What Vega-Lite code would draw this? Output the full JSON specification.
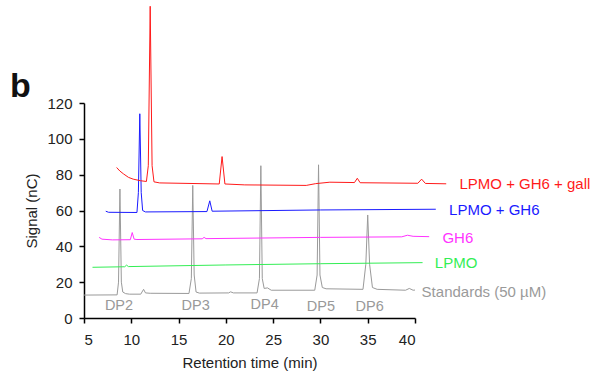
{
  "$schema": "https://vega.github.io/schema/vega-lite/v6.json",
  "width": 331,
  "height": 215,
  "autosize": {"type": "none"},
  "padding": {"left": 84, "top": 103, "right": 175, "bottom": 61},
  "background": "white",
  "config": {
    "view": {"stroke": null},
    "font": "Liberation Sans",
    "axis": {"grid": false, "domainColor": "#000", "domainWidth": 1.5, "tickColor": "#000", "tickWidth": 1.5, "tickSize": 5,
      "labelFontSize": 15, "labelColor": "#222", "titleFontSize": 15, "titleFontWeight": "normal", "titleColor": "#222"},
    "axisX": {"labelPadding": 9, "titlePadding": 8},
    "axisY": {"labelPadding": 7, "titlePadding": 7}
  },
  "title": {"text": "b", "anchor": "start", "frame": "group", "dx": -74, "dy": 100, "fontSize": 34, "fontWeight": "bold", "color": "#111", "offset": 0},
  "datasets": {
    "traces": [
      {"series": "std", "t": 5.0, "s": 12.8},
      {"series": "std", "t": 8.5, "s": 12.9},
      {"series": "std", "t": 8.65, "s": 20},
      {"series": "std", "t": 8.8, "s": 72},
      {"series": "std", "t": 8.95, "s": 20},
      {"series": "std", "t": 9.1, "s": 14.5},
      {"series": "std", "t": 9.4, "s": 13.6},
      {"series": "std", "t": 9.8, "s": 13.3},
      {"series": "std", "t": 11.0, "s": 13.3},
      {"series": "std", "t": 11.3, "s": 16.0},
      {"series": "std", "t": 11.5, "s": 14.0},
      {"series": "std", "t": 12.0, "s": 13.8},
      {"series": "std", "t": 16.1, "s": 13.7},
      {"series": "std", "t": 16.35, "s": 22},
      {"series": "std", "t": 16.5, "s": 74},
      {"series": "std", "t": 16.65, "s": 24},
      {"series": "std", "t": 16.85, "s": 14.5},
      {"series": "std", "t": 17.2, "s": 13.9},
      {"series": "std", "t": 20.3, "s": 14.0},
      {"series": "std", "t": 20.5, "s": 14.6},
      {"series": "std", "t": 20.8, "s": 14.0},
      {"series": "std", "t": 23.3, "s": 14.0},
      {"series": "std", "t": 23.55, "s": 22},
      {"series": "std", "t": 23.7, "s": 85},
      {"series": "std", "t": 23.85, "s": 22},
      {"series": "std", "t": 24.05, "s": 16.5},
      {"series": "std", "t": 24.4, "s": 16.8},
      {"series": "std", "t": 24.8, "s": 15.5},
      {"series": "std", "t": 29.4, "s": 15.5},
      {"series": "std", "t": 29.65, "s": 24},
      {"series": "std", "t": 29.8, "s": 85.5},
      {"series": "std", "t": 29.95, "s": 24},
      {"series": "std", "t": 30.2, "s": 17},
      {"series": "std", "t": 30.6, "s": 16.3},
      {"series": "std", "t": 34.5, "s": 16},
      {"series": "std", "t": 34.8, "s": 30},
      {"series": "std", "t": 35.0, "s": 57.5},
      {"series": "std", "t": 35.2, "s": 30},
      {"series": "std", "t": 35.5, "s": 17},
      {"series": "std", "t": 36.0, "s": 16},
      {"series": "std", "t": 39.0, "s": 15.5},
      {"series": "std", "t": 39.4, "s": 16.5},
      {"series": "std", "t": 39.8, "s": 15.5},
      {"series": "std", "t": 40.0, "s": 15.6},

      {"series": "lpmo", "t": 5.9, "s": 28.3},
      {"series": "lpmo", "t": 9.3, "s": 28.6},
      {"series": "lpmo", "t": 9.5, "s": 29.5},
      {"series": "lpmo", "t": 9.7, "s": 28.7},
      {"series": "lpmo", "t": 20.0, "s": 29.6},
      {"series": "lpmo", "t": 30.0, "s": 30.3},
      {"series": "lpmo", "t": 40.8, "s": 30.9},

      {"series": "gh6", "t": 6.6, "s": 45.0},
      {"series": "gh6", "t": 6.9, "s": 44.0},
      {"series": "gh6", "t": 8.0, "s": 43.6},
      {"series": "gh6", "t": 9.9, "s": 43.7},
      {"series": "gh6", "t": 10.1, "s": 47.7},
      {"series": "gh6", "t": 10.3, "s": 44.0},
      {"series": "gh6", "t": 10.6, "s": 43.8},
      {"series": "gh6", "t": 17.5, "s": 44.2},
      {"series": "gh6", "t": 17.7, "s": 45.0},
      {"series": "gh6", "t": 17.9, "s": 44.3},
      {"series": "gh6", "t": 30.0, "s": 45.0},
      {"series": "gh6", "t": 38.6, "s": 45.3},
      {"series": "gh6", "t": 39.2, "s": 46.2},
      {"series": "gh6", "t": 39.8, "s": 45.6},
      {"series": "gh6", "t": 41.5, "s": 45.4},

      {"series": "lg", "t": 7.3, "s": 59.6},
      {"series": "lg", "t": 7.6, "s": 59.0},
      {"series": "lg", "t": 10.6, "s": 58.9},
      {"series": "lg", "t": 10.75, "s": 70},
      {"series": "lg", "t": 10.9, "s": 114},
      {"series": "lg", "t": 11.05, "s": 70},
      {"series": "lg", "t": 11.2, "s": 60},
      {"series": "lg", "t": 11.5, "s": 59.2},
      {"series": "lg", "t": 18.0, "s": 59.4},
      {"series": "lg", "t": 18.3, "s": 65.4},
      {"series": "lg", "t": 18.55, "s": 59.6},
      {"series": "lg", "t": 30.0, "s": 60.3},
      {"series": "lg", "t": 42.2, "s": 60.7},

      {"series": "lgg", "t": 8.45, "s": 84},
      {"series": "lgg", "t": 8.8, "s": 82},
      {"series": "lgg", "t": 9.16, "s": 80.5},
      {"series": "lgg", "t": 9.7, "s": 78.5},
      {"series": "lgg", "t": 10.2, "s": 77.5},
      {"series": "lgg", "t": 11.0, "s": 76.6},
      {"series": "lgg", "t": 11.6, "s": 76.2},
      {"series": "lgg", "t": 11.8, "s": 85},
      {"series": "lgg", "t": 12.0, "s": 174},
      {"series": "lgg", "t": 12.2, "s": 85},
      {"series": "lgg", "t": 12.4, "s": 76},
      {"series": "lgg", "t": 13.0, "s": 75.4},
      {"series": "lgg", "t": 19.3, "s": 74.8},
      {"series": "lgg", "t": 19.6, "s": 90.1},
      {"series": "lgg", "t": 19.9, "s": 74.8},
      {"series": "lgg", "t": 22.0, "s": 74.3},
      {"series": "lgg", "t": 28.5, "s": 74.0},
      {"series": "lgg", "t": 29.5, "s": 75.0},
      {"series": "lgg", "t": 31.0, "s": 75.8},
      {"series": "lgg", "t": 33.6, "s": 75.6},
      {"series": "lgg", "t": 33.9, "s": 78},
      {"series": "lgg", "t": 34.2, "s": 75.5},
      {"series": "lgg", "t": 40.3, "s": 75.2},
      {"series": "lgg", "t": 40.7, "s": 77.5},
      {"series": "lgg", "t": 41.1, "s": 75.1},
      {"series": "lgg", "t": 43.3, "s": 74.9}
    ],
    "labels": [
      {"series": "lgg", "label": "LPMO + GH6 + gall", "t": 44.7, "s": 74.9},
      {"series": "lg", "label": "LPMO + GH6", "t": 43.6, "s": 60.3},
      {"series": "gh6", "label": "GH6", "t": 42.9, "s": 44.5},
      {"series": "lpmo", "label": "LPMO", "t": 42.1, "s": 30.6},
      {"series": "std", "label": "Standards (50 µM)", "t": 40.7, "s": 14.7}
    ],
    "dp": [
      {"label": "DP2", "t": 8.7, "s": 6.9},
      {"label": "DP3", "t": 16.8, "s": 6.9},
      {"label": "DP4", "t": 24.1, "s": 7.2},
      {"label": "DP5", "t": 30.05, "s": 6.4},
      {"label": "DP6", "t": 35.2, "s": 6.4}
    ]
  },
  "encoding": {
    "x": {
      "field": "t", "type": "quantitative",
      "scale": {"domain": [5, 40], "nice": false, "zero": false},
      "axis": {"values": [5, 10, 15, 20, 25, 30, 35, 40], "title": "Retention time (min)"}
    },
    "y": {
      "field": "s", "type": "quantitative",
      "scale": {"domain": [0, 120], "nice": false},
      "axis": {"values": [0, 20, 40, 60, 80, 100, 120], "title": "Signal (nC)"}
    }
  },
  "layer": [
    {
      "data": {"name": "traces"},
      "mark": {"type": "line", "strokeWidth": 1, "clip": false},
      "encoding": {
        "color": {"field": "series", "type": "nominal", "legend": null,
          "scale": {"domain": ["std", "lpmo", "gh6", "lg", "lgg"], "range": ["#9a9a9a", "#33ee55", "#ff33ff", "#1a1aff", "#ff1a1a"]}},
        "order": {"field": "t", "type": "quantitative"}
      }
    },
    {
      "data": {"name": "labels"},
      "mark": {"type": "text", "align": "left", "baseline": "middle", "fontSize": 15},
      "encoding": {
        "text": {"field": "label"},
        "color": {"field": "series", "type": "nominal", "legend": null,
          "scale": {"domain": ["std", "lpmo", "gh6", "lg", "lgg"], "range": ["#8c8c8c", "#33dd55", "#ff33ff", "#2a2aff", "#ff2020"]}}
      }
    },
    {
      "data": {"name": "dp"},
      "mark": {"type": "text", "align": "center", "baseline": "middle", "fontSize": 14.5, "color": "#999999"},
      "encoding": {"text": {"field": "label"}}
    }
  ]
}
